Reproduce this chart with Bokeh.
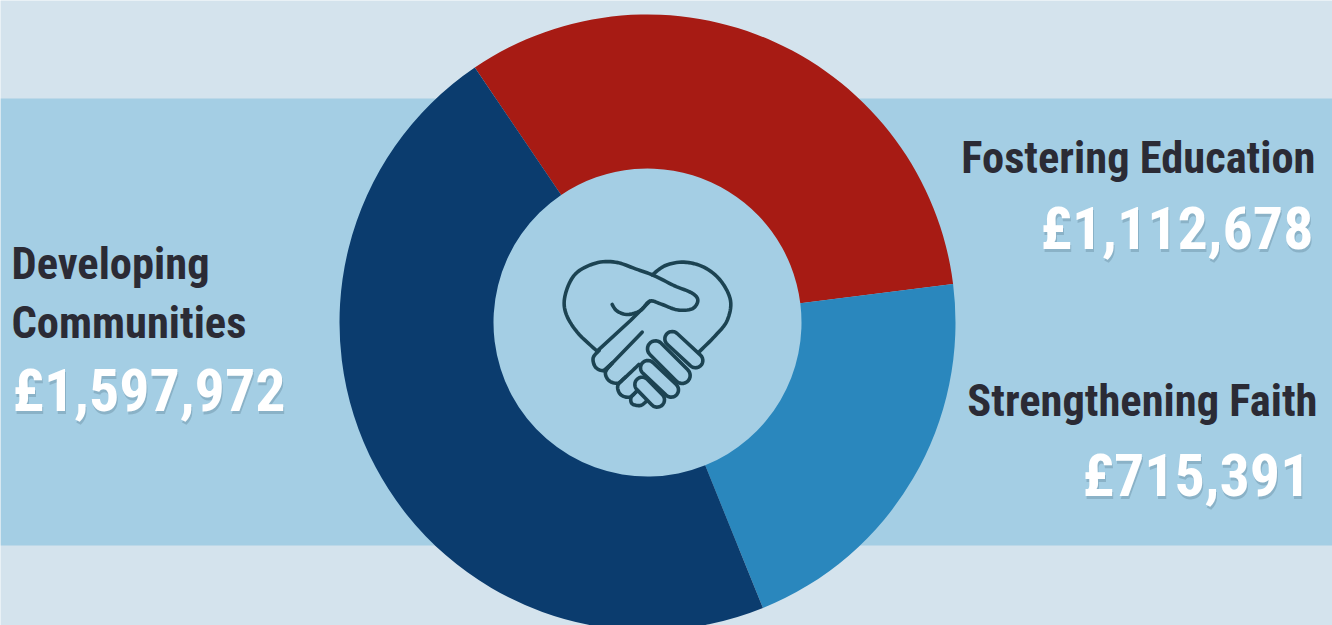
from bokeh.plotting import figure
from bokeh.embed import file_html
from bokeh.resources import INLINE
from bokeh.core.properties import value
import numpy as np

categories = ["Developing Communities", "Fostering Education", "Strengthening Faith"]
values = [1597972, 1112678, 715391]
amounts = ["£1,597,972", "£1,112,678", "£715,391"]
colors = ["#0b3c6e", "#a71b14", "#2a87bd"]

W, H = 1332, 625
p = figure(width=W, height=H, x_range=(0, W), y_range=(0, H),
           output_backend="svg", toolbar_location=None, min_border=0,
           outline_line_color=None, background_fill_color="#d4e3ed")
p.axis.visible = False
p.grid.visible = False

def Y(py):
    return H - py

p.quad(left=[0], right=[W], top=[Y(98)], bottom=[Y(545)], color="#a4cee4", line_color=None)

cx, cy = 647, Y(322)
total = sum(values)
a = np.radians(124.1)
for v, c in zip(values[1:] + values[:1], colors[1:] + colors[:1]):
    b = a - 2 * np.pi * v / total
    p.annular_wedge(x=[cx], y=[cy], inner_radius=154, outer_radius=308,
                    start_angle=[b], end_angle=[a], color=c, line_color=None)
    a = b

def smooth(pts, n=8):
    pts = np.array(pts, float)
    P = np.vstack([pts[0], pts, pts[-1]])
    out = []
    for i in range(1, len(P) - 2):
        for t in np.linspace(0, 1, n, endpoint=False):
            out.append(0.5 * (2 * P[i] + (P[i + 1] - P[i - 1]) * t
                              + (2 * P[i - 1] - 5 * P[i] + 4 * P[i + 1] - P[i + 2]) * t * t
                              + (3 * P[i] - P[i - 1] - 3 * P[i + 1] + P[i + 2]) * t ** 3))
    out.append(P[-2])
    return np.array(out)

def pill(x0, y0, x1, y1, r):
    ang = np.arctan2(y1 - y0, x1 - x0)
    t1 = np.linspace(ang + np.pi / 2, ang + 3 * np.pi / 2, 14)
    t2 = np.linspace(ang - np.pi / 2, ang + np.pi / 2, 14)
    A = np.c_[x0 + r * np.cos(t1), y0 + r * np.sin(t1)]
    B = np.c_[x1 + r * np.cos(t2), y1 + r * np.sin(t2)]
    return np.vstack([A, B, A[:1]])

paths = [
    smooth([(170, 332), (110, 275), (75, 215), (75, 160), (105, 100), (165, 68), (225, 65), (285, 85),
            (340, 105), (400, 135), (455, 158), (472, 180), (455, 205), (410, 208), (360, 190), (328, 182),
            (300, 210), (262, 222), (230, 212), (215, 192)]),
    smooth([(335, 103), (375, 75), (430, 65), (490, 80), (540, 120), (570, 180), (560, 240), (525, 285), (475, 335)]),
    np.array([(328, 182), (270, 240), (170, 332)], float),
    smooth([(176, 330), (158, 352), (165, 380), (190, 390), (215, 368)]),
    np.array([(190, 390), (215, 368), (305, 275)], float),
    smooth([(215, 368), (195, 395), (205, 420), (232, 428), (255, 410), (295, 372)]),
    smooth([(255, 410), (232, 435), (240, 462), (268, 470), (290, 450)]),
    smooth([(290, 452), (272, 470), (275, 490), (300, 495), (318, 482)]),
]
for seg in [(345, 325, 425, 405, 24), (395, 295, 465, 360, 22), (322, 382, 392, 448, 22), (305, 432, 350, 478, 22)]:
    paths.append(pill(*seg))

for path in paths:
    p.line(540 + path[:, 0] / 3, Y(240 + path[:, 1] / 3), line_color="#1c4352", line_width=3.6,
           line_cap="round", line_join="round")

font = value("Roboto Condensed, Noto Sans Condensed, Open Sans Condensed, DejaVu Sans Condensed, Liberation Sans")
def label(x, py, txt, color, size, align, shadow=False):
    if shadow:
        p.text(x=[x + 1], y=[Y(py + 3)], text=[txt], text_color="#5d7f92", text_alpha=0.35, text_font=font,
               text_font_size=size, text_font_style="bold", text_align=align, text_baseline="middle")
    p.text(x=[x], y=[Y(py)], text=[txt], text_color=color, text_font=font,
           text_font_size=size, text_font_style="bold", text_align=align, text_baseline="middle")

label(11, 263, "Developing", "#2b2b35", "44.5px", "left")
label(11, 322, "Communities", "#2b2b35", "44.5px", "left")
label(12, 390, amounts[0], "#ffffff", "60px", "left", True)
label(1315, 157, "Fostering Education", "#2b2b35", "44.5px", "right")
label(1313, 228, amounts[1], "#ffffff", "60px", "right", True)
label(1317, 400, "Strengthening Faith", "#2b2b35", "44.5px", "right")
label(1310, 475, amounts[2], "#ffffff", "60px", "right", True)

open("out.html", "w").write(file_html(p, INLINE))
